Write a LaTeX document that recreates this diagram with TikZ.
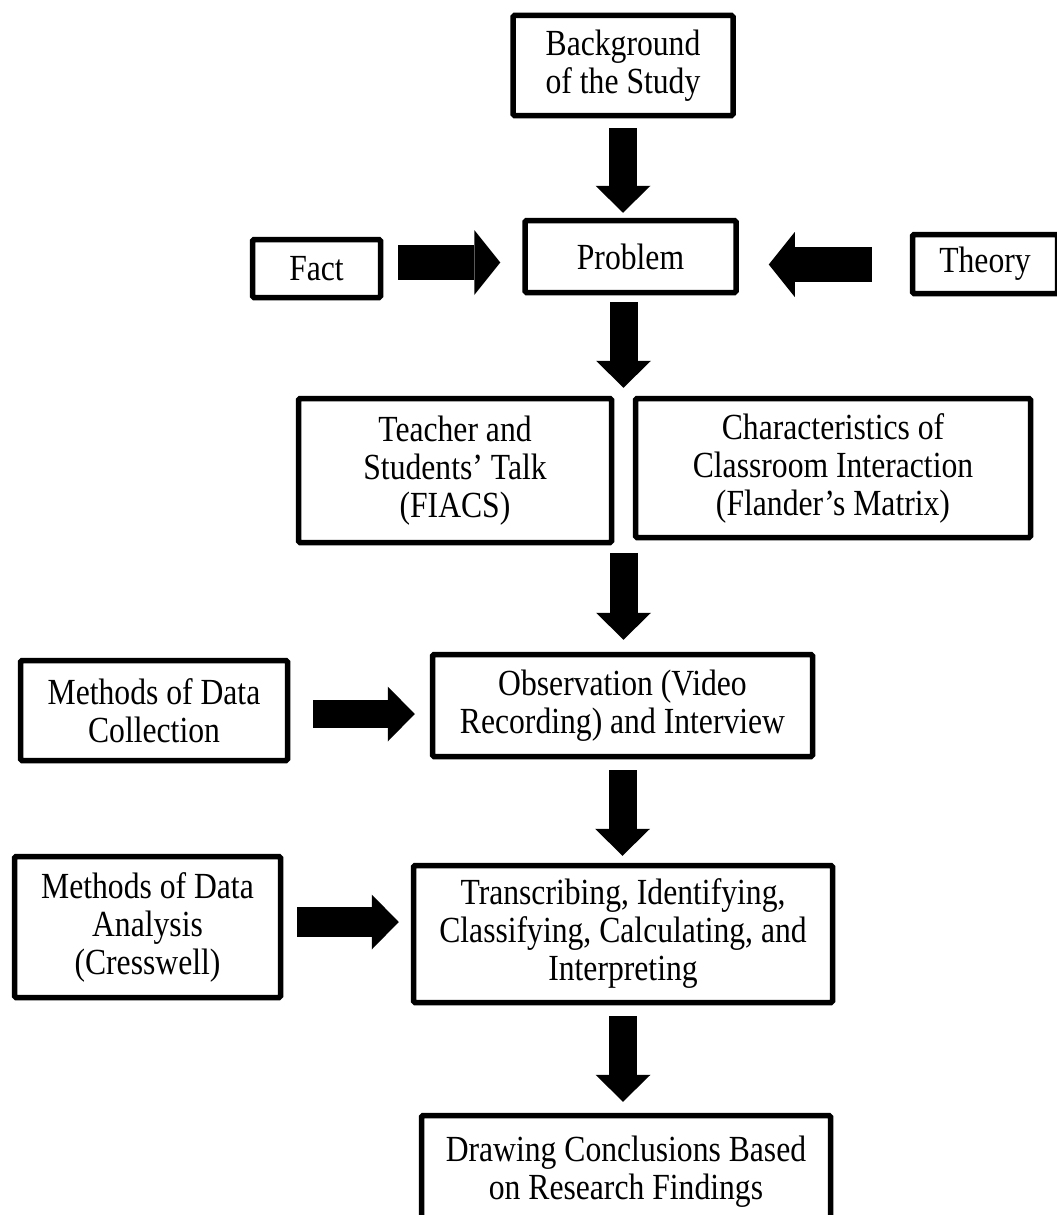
\documentclass[tikz,border=0pt]{standalone}
\usepackage{fontspec}
\setmainfont{Liberation Serif}[FakeStretch=0.86]
\usetikzlibrary{arrows.meta,calc}

\begin{document}
\begin{tikzpicture}[x=1pt,y=-1pt,
	box/.style={draw, line width=5.5pt, rounded corners=1.5pt, align=center, inner sep=2pt, font=\fontsize{36.8}{38}\selectfont},
	bigarrow/.style={line width=28pt, -{Triangle[length=27pt,width=55pt,line width=0pt]}},
	widearrow/.style={line width=35pt, -{Triangle[length=26pt,width=65pt,line width=0pt]}}]
	\useasboundingbox (0,0) rectangle (1057,1215);
	%top row
		\node[box, minimum width=220pt, minimum height=100pt] (bg) at (623,65.5) {Background\\of the Study};
		\node[box, minimum width=211pt, minimum height=72pt] (prob) at (630.5,256.5) {Problem};
		\node[box, minimum width=128pt, minimum height=58pt] (fact) at (316.5,268.5) {Fact};
		\node[box, minimum width=145pt, minimum height=59pt] (theory) at (985,264) {Theory};
	%focus of the study
		\node[box, minimum width=313pt, minimum height=144pt] (talk) at (455,470.5) {Teacher and\\Students' Talk\\(FIACS)};
		\node[box, minimum width=395pt, minimum height=139pt] (charac) at (833,468) {Characteristics of\\Classroom Interaction\\(Flander's Matrix)};
		\coordinate (splittop) at ($(talk.north east)!.5!(charac.north west)$);
		\coordinate (splitbot) at ($(talk.south east)!.5!(charac.south west)$);
	%collection + analysis
		\node[box, minimum width=267pt, minimum height=100pt] (collect) at (154,710.5) {Methods of Data\\Collection};
		\node[box, minimum width=380pt, minimum height=102pt] (obs) at (622.5,705.5) {Observation (Video\\Recording) and Interview};
		\node[box, minimum width=266pt, minimum height=141pt] (analysis) at (147.5,927) {Methods of Data\\Analysis\\(Cresswell)};
		\node[box, minimum width=419pt, minimum height=137pt] (trans) at (623,934) {Transcribing, Identifying,\\Classifying, Calculating, and\\Interpreting};
		\node[box, minimum width=409pt, minimum height=113pt] (concl) at (626,1172) {Drawing Conclusions Based\\on Research Findings};
	%down arrows
		\draw[bigarrow, shorten <=10pt, shorten >=5pt] (bg.south) -- (bg.south |- prob.north);
		\draw[bigarrow, shorten <=7pt, shorten >=8pt] (splittop |- prob.south) -- (splittop);
		\draw[bigarrow, shorten <=10pt, shorten >=12pt] (splitbot) -- (splitbot |- obs.north);
		\draw[bigarrow, shorten <=11pt, shorten >=7pt] (obs.south) -- (obs.south |- trans.north);
		\draw[bigarrow, shorten <=11pt, shorten >=11pt] (trans.south) -- (trans.south |- concl.north);
	%side arrows
		\draw[widearrow, shorten <=15pt, shorten >=22pt] ([yshift=6pt]fact.east) -- ([yshift=6pt]fact.east -| prob.west);
		\draw[widearrow, shorten <=38pt, shorten >=30pt] ([yshift=-0.5pt]theory.west) -- ([yshift=-0.5pt]theory.west -| prob.east);
		\draw[bigarrow, shorten <=23pt, shorten >=15pt] ([yshift=-3.5pt]collect.east) -- ([yshift=-3.5pt]collect.east -| obs.west);
		\draw[bigarrow, line width=30pt, shorten <=14pt, shorten >=12pt] ([yshift=5pt]analysis.east) -- ([yshift=5pt]analysis.east -| trans.west);
\end{tikzpicture}
\end{document}
